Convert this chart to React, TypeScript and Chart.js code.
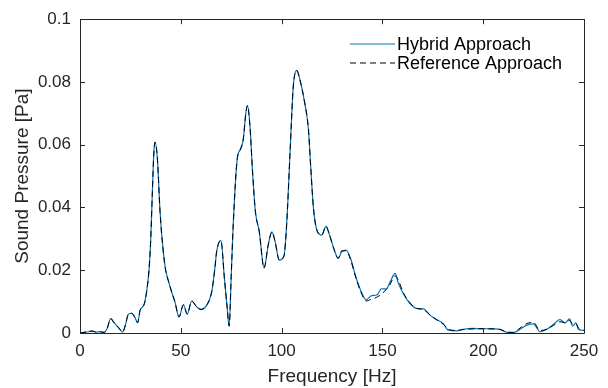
import React, { useEffect, useRef } from "react";
import { Chart, registerables } from "chart.js";

Chart.register(...registerables);

// Frequency samples [Hz]
const frequencies = [
  0, 2, 4, 6, 8, 10, 12, 13.5, 15.2, 17, 19, 21.2, 22.5, 24, 25.6, 27, 28.6, 29.8, 31.9, 33,
  34.2, 35.1, 35.9, 36.6, 37.2, 38.4, 39.7, 41.3, 42.5, 43.8, 45.5, 47.1, 49.1, 51.3, 53.2, 55.4,
  57.9, 60, 62.8, 65.3, 66.8, 67.8, 69.9, 71.6, 73, 74, 75, 76, 78, 79.7, 81, 82.2, 83.1, 84.3,
  85.6, 87, 88.9, 91.3, 93.4, 95.2, 96.7, 98.9, 101.2, 102.5, 104.2, 105.8, 107.5, 109.1, 111.3,
  113.3, 114.4, 115.8, 117.7, 119.9, 122, 123.7, 126, 128.1, 129.8, 132, 134.3, 136.4, 138.9,
  141.9, 144.7, 147.2, 149.6, 151.8, 153.8, 156.3, 157.9, 160.4, 163.7, 167, 170.3, 173.6, 176.9,
  180.2, 182.7, 186.8, 190.1, 195.1, 198.4, 203.4, 208.3, 211.7, 215, 218.3, 221.6, 224.9, 228.2,
  231.5, 234.8, 238.1, 240.6, 242.8, 244.4, 246, 247.2, 249.7, 250,
];

// Hybrid approach sound pressure [Pa]
const hybridValues = [
  0, 0.0002, 0.0004, 0.0007, 0.0003, 0.0004, 0.0002, 0.0015, 0.0046, 0.0032, 0.0018, 0.0003,
  0.0025, 0.006, 0.0063, 0.0052, 0.0033, 0.0072, 0.0093, 0.013, 0.0198, 0.03, 0.045, 0.057,
  0.0608, 0.0555, 0.0387, 0.026, 0.02, 0.0167, 0.013, 0.0099, 0.0051, 0.009, 0.006, 0.0102,
  0.0083, 0.0075, 0.0088, 0.013, 0.02, 0.026, 0.0295, 0.0177, 0.008, 0.0022, 0.018, 0.0345,
  0.0555, 0.0587, 0.0618, 0.0697, 0.0725, 0.066, 0.0513, 0.0387, 0.0324, 0.0207, 0.0282, 0.0322,
  0.0293, 0.0232, 0.0246, 0.0345, 0.0576, 0.0786, 0.0837, 0.0807, 0.0739, 0.065, 0.0534, 0.0398,
  0.0324, 0.0312, 0.034, 0.0314, 0.0267, 0.0238, 0.0259, 0.0264, 0.0236, 0.0188, 0.0141, 0.0106,
  0.0119, 0.0121, 0.0141, 0.014, 0.0162, 0.019, 0.0159, 0.0125, 0.0094, 0.0078, 0.0077, 0.0057,
  0.0043, 0.003, 0.0009, 0.0007, 0.0012, 0.0015, 0.0013, 0.0014, 0.0012, 0.0002, 0.0001, 0.0012,
  0.0025, 0.0029, 0.0004, 0.0012, 0.0027, 0.0043, 0.0032, 0.0045, 0.0023, 0.0032, 0.0012, 0.0008,
  0.0008,
];

// Reference approach sound pressure [Pa]
const referenceValues = [
  0, 0.0002, 0.0004, 0.0006, 0.0003, 0.0004, 0.0002, 0.0015, 0.0046, 0.0032, 0.0018, 0.0003,
  0.0025, 0.006, 0.0063, 0.0052, 0.0033, 0.0072, 0.0093, 0.013, 0.0198, 0.03, 0.045, 0.057,
  0.0608, 0.0555, 0.0387, 0.026, 0.02, 0.0167, 0.013, 0.0099, 0.0051, 0.009, 0.006, 0.0102,
  0.0083, 0.0075, 0.0088, 0.013, 0.02, 0.026, 0.0295, 0.0177, 0.008, 0.0022, 0.018, 0.0345,
  0.0555, 0.0587, 0.0618, 0.0697, 0.0725, 0.066, 0.0513, 0.0387, 0.0324, 0.0207, 0.0282, 0.0322,
  0.0293, 0.0232, 0.0246, 0.0345, 0.0576, 0.0786, 0.0837, 0.0807, 0.0739, 0.065, 0.0534, 0.0398,
  0.0324, 0.0312, 0.034, 0.0314, 0.0267, 0.0238, 0.0262, 0.0262, 0.0232, 0.0185, 0.0138, 0.0102,
  0.0108, 0.0114, 0.0124, 0.0138, 0.0155, 0.0182, 0.0168, 0.0128, 0.0096, 0.0078, 0.0075, 0.0058,
  0.0042, 0.0028, 0.0012, 0.0008, 0.0011, 0.0013, 0.0014, 0.0013, 0.0011, 0.0003, 0.0002, 0.0016,
  0.003, 0.0034, 0.0008, 0.0012, 0.0024, 0.0036, 0.0033, 0.004, 0.0028, 0.003, 0.0016, 0.001,
  0.0009,
];

const xTicks = [0, 50, 100, 150, 200, 250];
const yTicks = [0, 0.02, 0.04, 0.06, 0.08, 0.1];

const seriesLabels = ["Hybrid Approach", "Reference Approach"];

const TEXT = "#262626";
const FONT = '"Liberation Sans", Arial, sans-serif';

const framePlugin = {
  id: "frameTicks",
  afterDraw(chart: any) {
    const { ctx, chartArea, scales } = chart;
    const { left, right, top, bottom } = chartArea;
    ctx.save();
    ctx.strokeStyle = TEXT;
    ctx.lineWidth = 1;
    ctx.beginPath();
    ctx.rect(Math.round(left) + 0.5, Math.round(top) + 0.5, Math.round(right - left), Math.round(bottom - top));
    ctx.stroke();
    const len = 5;
    ctx.beginPath();
    xTicks.forEach((v) => {
      const px = Math.round(scales.x.getPixelForValue(v)) + 0.5;
      ctx.moveTo(px, bottom);
      ctx.lineTo(px, bottom - len);
      ctx.moveTo(px, top);
      ctx.lineTo(px, top + len);
    });
    yTicks.forEach((v) => {
      const py = Math.round(scales.y.getPixelForValue(v)) + 0.5;
      ctx.moveTo(left, py);
      ctx.lineTo(left + len, py);
      ctx.moveTo(right, py);
      ctx.lineTo(right - len, py);
    });
    ctx.stroke();
    ctx.restore();
  },
};

const legendPlugin = {
  id: "innerLegend",
  afterDraw(chart: any) {
    const { ctx, chartArea } = chart;
    const x0 = chartArea.left + 270;
    ctx.save();
    chart.data.datasets.forEach((ds: any, i: number) => {
      const y = Math.round(chartArea.top + 25 + i * 19);
      ctx.strokeStyle = ds.borderColor;
      ctx.lineWidth = 1;
      ctx.setLineDash(ds.borderDash || []);
      ctx.beginPath();
      ctx.moveTo(x0, y);
      ctx.lineTo(x0 + 45, y);
      ctx.stroke();
      ctx.setLineDash([]);
      ctx.fillStyle = "#000";
      ctx.font = `18px ${FONT}`;
      ctx.textBaseline = "middle";
      ctx.textAlign = "left";
      ctx.fillText(ds.label, x0 + 47, y + 1);
    });
    ctx.restore();
  },
};

export default function App() {
  const canvasRef = useRef<HTMLCanvasElement | null>(null);

  useEffect(() => {
    document.body.style.margin = "0";
    const canvas = canvasRef.current;
    if (!canvas) return;
    const toPoints = (vals: number[]) => frequencies.map((f, i) => ({ x: f, y: vals[i] }));
    const chart = new Chart(canvas, {
      type: "line",
      data: {
        datasets: [
          {
            label: seriesLabels[0],
            data: toPoints(hybridValues),
            borderColor: "#0072BD",
            borderWidth: 1.2,
            pointRadius: 0,
            cubicInterpolationMode: "monotone",
            order: 1,
          },
          {
            label: seriesLabels[1],
            data: toPoints(referenceValues),
            borderColor: "#000000",
            borderWidth: 1,
            borderDash: [6, 4],
            pointRadius: 0,
            cubicInterpolationMode: "monotone",
            order: 0,
          },
        ],
      },
      options: {
        animation: false,
        responsive: false,
        events: [],
        layout: { padding: { top: 15, right: 24, left: 0, bottom: 0 } },
        plugins: { legend: { display: false }, tooltip: { enabled: false } },
        scales: {
          x: {
            type: "linear",
            min: 0,
            max: 250,
            afterFit: (s: any) => {
              s.height = 55;
            },
            afterBuildTicks: (s: any) => {
              s.ticks = xTicks.map((v) => ({ value: v }));
            },
            grid: { display: false, drawTicks: false },
            border: { display: false },
            ticks: { color: TEXT, font: { family: FONT, size: 17 }, padding: 8, maxRotation: 0 },
            title: {
              display: true,
              text: "Frequency [Hz]",
              color: TEXT,
              font: { family: FONT, size: 19 },
              padding: { top: 0, bottom: 0 },
            },
          },
          y: {
            type: "linear",
            min: 0,
            max: 0.1,
            afterFit: (s: any) => {
              s.width = 80;
            },
            afterBuildTicks: (s: any) => {
              s.ticks = yTicks.map((v) => ({ value: v }));
            },
            grid: { display: false, drawTicks: false },
            border: { display: false },
            ticks: {
              color: TEXT,
              font: { family: FONT, size: 17 },
              padding: 9,
              callback: (v: any) => String(+Number(v).toFixed(2)),
            },
            title: {
              display: true,
              text: "Sound Pressure [Pa]",
              color: TEXT,
              font: { family: FONT, size: 19 },
              padding: { top: 11, bottom: 0 },
            },
          },
        },
      },
      plugins: [framePlugin, legendPlugin],
    });
    return () => chart.destroy();
  }, []);

  return (
    <div style={{ width: 608, height: 388 }}>
      <canvas ref={canvasRef} width={608} height={388} />
    </div>
  );
}
